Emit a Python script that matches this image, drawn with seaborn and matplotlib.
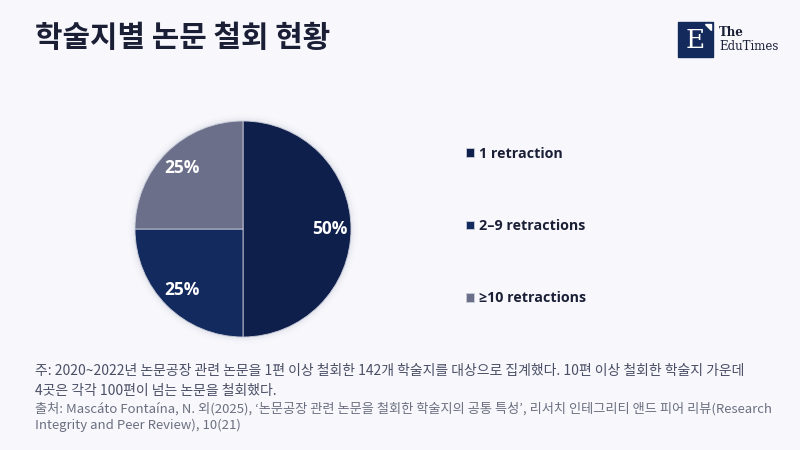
import seaborn as sns
import matplotlib.pyplot as plt
from matplotlib.patches import Circle, Rectangle, Polygon

# 데이터
categories = ['1 retraction', '2–9 retractions', '≥10 retractions']
shares = [50, 25, 25]
colors = ['#0f1f4b', '#132a5e', '#6b6f8a']

title = '학술지별 논문 철회 현황'
note = ('주: 2020~2022년 논문공장 관련 논문을 1편 이상 철회한 142개 학술지를 대상으로 집계했다. 10편 이상 철회한 학술지 가운데\n'
        '4곳은 각각 100편이 넘는 논문을 철회했다.')
source = ("출처: Mascáto Fontaína, N. 외(2025), ‘논문공장 관련 논문을 철회한 학술지의 공통 특성’, 리서치 인테그리티 앤드 피어 리뷰(Research\n"
          "Integrity and Peer Review), 10(21)")

bg = '#f8f8fc'
sns.set_theme(style='white')
plt.rcParams['font.family'] = ['Noto Sans CJK KR', 'DejaVu Sans']
latin = ['Open Sans', 'Noto Sans CJK KR', 'DejaVu Sans']

fig = plt.figure(figsize=(8, 4.5), dpi=100)
fig.patch.set_facecolor(bg)

# 파이 차트 (중심 243,229 px, 반지름 108 px)
ax = fig.add_axes([0.15525, 0.2271, 0.297, 0.528])
ax.set_facecolor(bg)
for r, a in [(1.06, 0.04), (1.035, 0.06), (1.015, 0.08)]:
    ax.add_patch(Circle((0, 0), r, color='#9aa0b8', alpha=a, lw=0, zorder=0))
wedges, _, autotexts = ax.pie(
    shares, colors=colors, startangle=90, counterclock=False,
    autopct='%d%%', pctdistance=0.8, radius=1,
    wedgeprops=dict(linewidth=0.6, edgecolor='#c8cbd8'),
    textprops=dict(color='white', fontsize=12.5, fontweight='bold', family=latin))
ax.set_xlim(-1.1, 1.1)
ax.set_ylim(-1.1, 1.1)
ax.set_aspect('equal')
ax.axis('off')

fig.legend(wedges, categories, loc='upper left', bbox_to_anchor=(0.566, 0.703),
           frameon=False, handlelength=0.55, handleheight=0.55, handletextpad=0.4,
           labelspacing=4.08, labelcolor='#1a1f36',
           prop=dict(size=10.3, weight='bold', family=latin))

# 제목
fig.text(35 / 800, 1 - 38 / 450, title, fontsize=21.5, fontweight='bold',
         color='#1a1f36', va='center', ha='left')

# 로고
lax = fig.add_axes([0, 0, 1, 1], facecolor='none')
lax.set_xlim(0, 800)
lax.set_ylim(450, 0)
lax.axis('off')
lax.add_patch(Rectangle((678, 22), 35, 35, color='#142a5c'))
lax.add_patch(Polygon([[705, 24], [711, 24], [711, 30]], color='white'))
lax.text(695, 40, 'E', fontsize=19, color='white', family='DejaVu Serif',
         ha='center', va='center')
lax.text(719, 33, 'The', fontsize=8.5, color='#1a1f36', family='DejaVu Serif',
         ha='left', va='center', fontweight='bold')
lax.text(719, 46, 'EduTimes', fontsize=8.5, color='#1a1f36', family='DejaVu Serif',
         ha='left', va='center')

# 주석, 출처
fig.text(35 / 800, 1 - 364 / 450, note, fontsize=10, color='#4a4f66',
         va='top', ha='left', linespacing=1.5)
fig.text(35 / 800, 1 - 402 / 450, source, fontsize=9.5, color='#6b6f80',
         va='top', ha='left', linespacing=1.3)

fig.savefig('out.png', dpi=100, facecolor=bg)
